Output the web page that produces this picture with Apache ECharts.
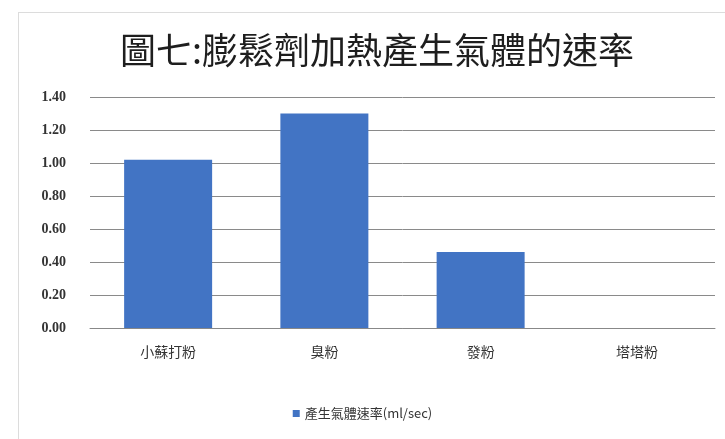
<!DOCTYPE html>
<html>
<head>
<meta charset="utf-8">
<script src="https://cdn.jsdelivr.net/npm/echarts@6/dist/echarts.min.js"></script>
<style>
  html, body { margin: 0; padding: 0; background: #ffffff; }
  #frame { position: absolute; left: 18px; top: 12px; width: 720px; height: 440px; border: 1px solid #dcdcdc; box-sizing: border-box; }
  #chart { width: 725px; height: 439px; }
</style>
</head>
<body>
<div id="frame"></div>
<div id="chart" style="position:absolute;left:0;top:0;"></div>
<script>
// Leavening agents and the gas each releases when heated
const categories = ['小蘇打粉', '臭粉', '發粉', '塔塔粉'];
const gasRate = [1.02, 1.30, 0.46, 0];
const seriesName = '產生氣體速率(ml/sec)';
const chartTitle = '圖七:膨鬆劑加熱產生氣體的速率';

const chart = echarts.init(document.getElementById('chart'), null, { renderer: 'canvas' });
chart.setOption({
  animation: false,
  backgroundColor: 'transparent',
  title: {
    text: chartTitle,
    left: 372,
    textAlign: 'center',
    top: 27,
    textStyle: { fontFamily: 'Noto Sans CJK TC', fontSize: 36, fontWeight: 'normal', color: '#1e1e1e' }
  },
  legend: {
    data: [seriesName],
    bottom: 14,
    left: 'center',
    itemWidth: 7,
    itemHeight: 7,
    icon: 'rect',
    textStyle: { fontFamily: 'Noto Sans CJK TC', fontSize: 13, color: '#333' }
  },
  grid: { left: 90, right: 10, top: 97, bottom: 111 },
  xAxis: {
    type: 'category',
    data: categories,
    axisLine: { lineStyle: { color: '#888' } },
    axisTick: { show: false },
    axisLabel: { margin: 17, fontFamily: 'Noto Sans CJK TC', fontSize: 14, color: '#333' }
  },
  yAxis: {
    type: 'value',
    min: 0,
    max: 1.4,
    interval: 0.2,
    axisLine: { show: false },
    axisTick: { show: false },
    splitLine: { lineStyle: { color: '#8a8a8a', width: 1 } },
    axisLabel: {
      margin: 24,
      fontFamily: 'Liberation Serif',
      fontWeight: 'bold',
      fontSize: 14,
      color: '#333',
      formatter: v => v.toFixed(2)
    }
  },
  series: [{
    name: seriesName,
    type: 'bar',
    data: gasRate,
    barWidth: 88,
    itemStyle: { color: '#4274c4' }
  }]
});
</script>
</body>
</html>
